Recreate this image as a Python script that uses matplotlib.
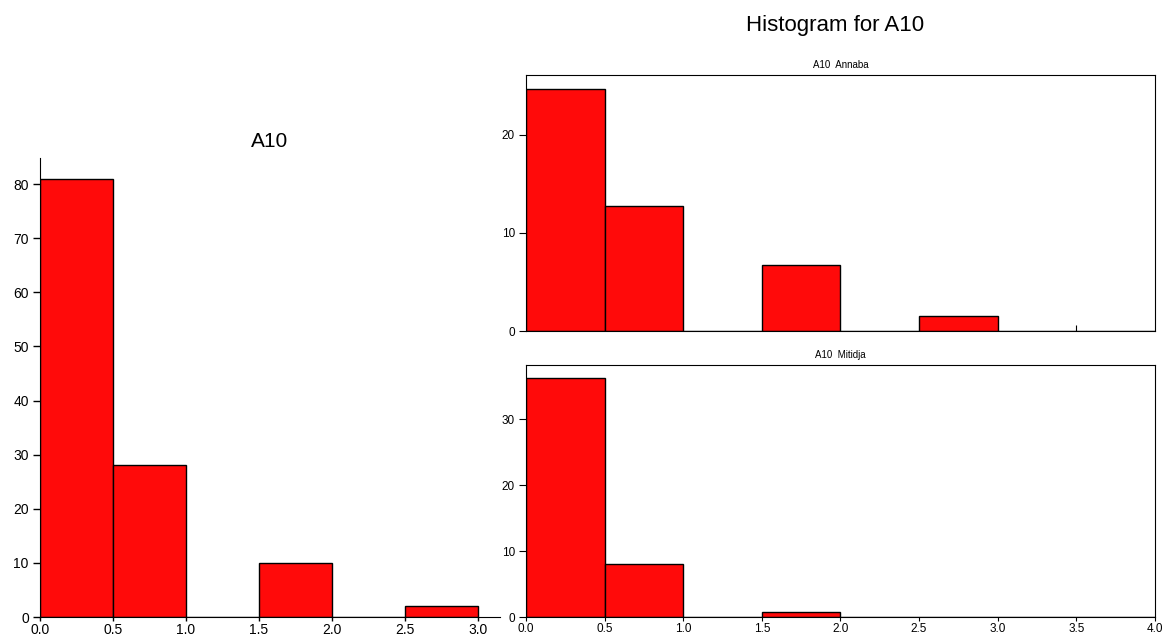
import numpy as np
import matplotlib.pyplot as plt

plt.rcParams['font.family'] = ['Liberation Sans', 'DejaVu Sans']

# bin edges and counts
edges_all = [0.0, 0.5, 1.0, 1.5, 2.0, 2.5, 3.0]
counts_all = [81, 28, 0, 10, 0, 2]

edges_grp = [0.0, 0.5, 1.0, 1.5, 2.0, 2.5, 3.0, 3.5, 4.0]
counts_annaba = [24.7, 12.7, 0, 6.7, 0, 1.5, 0, 0]
counts_mitidja = [36.3, 8.1, 0, 0.8, 0, 0, 0, 0]

bar_color = '#ff0a0a'


def draw_hist(ax, edges, counts):
    edges = np.asarray(edges)
    widths = np.diff(edges)
    ax.bar(edges[:-1], counts, width=widths, align='edge',
           color=bar_color, edgecolor='black', linewidth=1.0)


fig = plt.figure(figsize=(11.65, 6.39), dpi=100)

# left panel: all observations
ax0 = fig.add_axes([0.0343, 0.0344, 0.3949, 0.7183])
draw_hist(ax0, edges_all, counts_all)
ax0.set_xlim(0, 3.15)
ax0.set_ylim(0, 84.8)
ax0.set_xticks(np.arange(0, 3.01, 0.5))
ax0.set_xticklabels([f'{v:.1f}' for v in np.arange(0, 3.01, 0.5)])
ax0.set_yticks(range(0, 81, 10))
ax0.spines['top'].set_visible(False)
ax0.spines['right'].set_visible(False)
ax0.tick_params(labelsize=10, length=5, width=1, pad=3)
ax0.tick_params(axis='x', length=3, pad=1)
ax0.set_title('A10', fontsize=15, pad=8)

# right panels: by group
ax1 = fig.add_axes([0.4515, 0.482, 0.5399, 0.4006])
draw_hist(ax1, edges_grp, counts_annaba)
ax1.set_xlim(0, 4.0)
ax1.set_ylim(0, 26.1)
ax1.set_yticks([0, 10, 20])
ax1.set_xticks([3.5])
ax1.tick_params(axis='x', direction='in', labelbottom=False, length=4)
ax1.tick_params(axis='y', labelsize=8.5, length=5, pad=3)
ax1.set_title('A10  Annaba', fontsize=7, pad=5)

ax2 = fig.add_axes([0.4515, 0.0344, 0.5399, 0.3944])
draw_hist(ax2, edges_grp, counts_mitidja)
ax2.set_xlim(0, 4.0)
ax2.set_ylim(0, 38.2)
ax2.set_yticks([0, 10, 20, 30])
ax2.set_xticks(np.arange(0, 4.01, 0.5))
ax2.set_xticklabels([f'{v:.1f}' for v in np.arange(0, 4.01, 0.5)])
ax2.tick_params(labelsize=8.5, length=5, pad=3)
ax2.tick_params(axis='x', length=3, pad=1)
ax2.set_title('A10  Mitidja', fontsize=7, pad=5)

fig.text(0.717, 0.96, 'Histogram for A10', fontsize=16, ha='center', va='center')

fig.savefig('out.png', dpi=100)
